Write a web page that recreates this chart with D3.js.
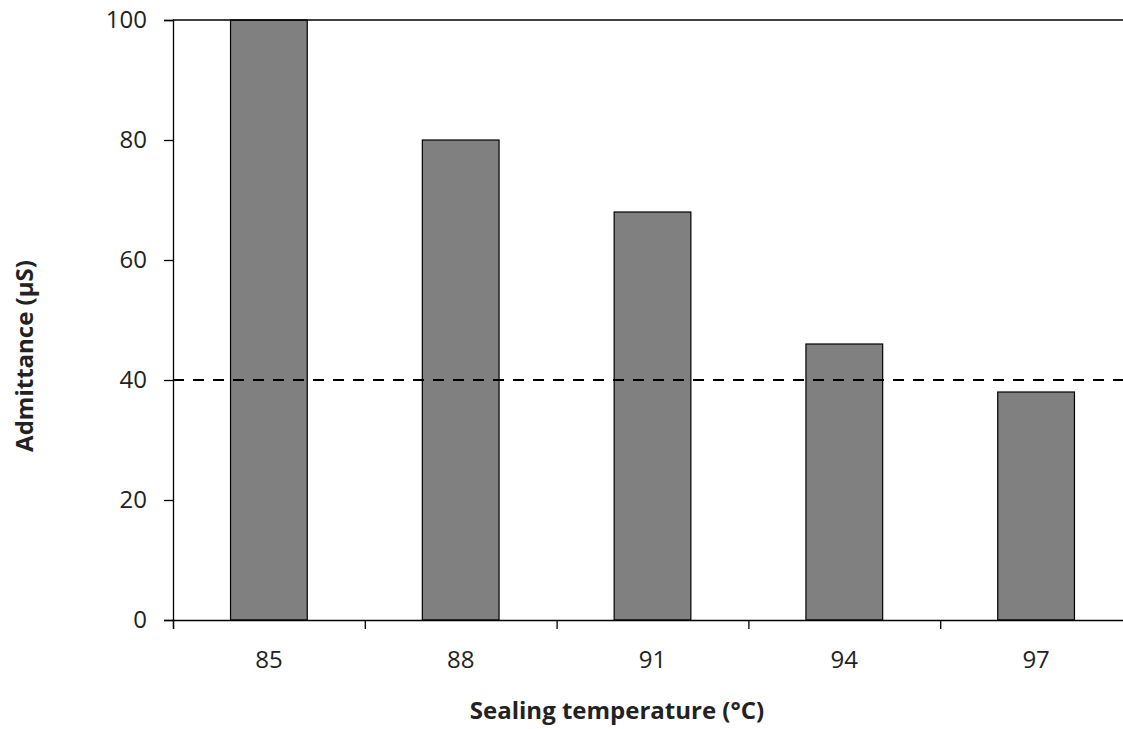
<!DOCTYPE html>
<html><head><meta charset="utf-8">
<script src="https://cdn.jsdelivr.net/npm/d3@7"></script>
<style>
html,body{margin:0;padding:0;background:#fff;overflow:hidden}
text{font-family:"Open Sans",sans-serif;fill:#222}
</style></head>
<body><svg id="c" width="1123" height="729"></svg>
<script>
const categories = ["85","88","91","94","97"];
const values = [100, 80, 68, 46, 38];
const yTicks = [0, 20, 40, 60, 80, 100];
const thresholdValue = [40];
const xTitle = "Sealing temperature (°C)";
const yTitle = "Admittance (µS)";

const svg = d3.select("#c");
const L = 173, R = 1132, T = 20, B = 620;
const x = d3.scaleBand().domain(categories).range([L, R]).paddingInner(0.6).paddingOuter(0.3);
const y = d3.scaleLinear().domain([0, 100]).range([B, T]);

// bars
svg.append("g").selectAll("rect").data(values).join("rect")
  .attr("x", (d,i) => x(categories[i]))
  .attr("y", d => y(d))
  .attr("width", x.bandwidth())
  .attr("height", d => y(0) - y(d))
  .attr("fill", "#808080").attr("stroke", "#000").attr("stroke-width", 1.2);

// threshold
svg.append("g").selectAll("line").data(thresholdValue).join("line")
  .attr("x1", L).attr("x2", R).attr("y1", d => y(d)).attr("y2", d => y(d))
  .attr("stroke", "#000").attr("stroke-width", 2.2).attr("stroke-dasharray", "11,9");

// top border
svg.append("line").attr("x1", L).attr("x2", R).attr("y1", T).attr("y2", T)
  .attr("stroke", "#000").attr("stroke-width", 1.3);

// y axis
const ya = svg.append("g").attr("transform", `translate(${L},0)`)
  .call(d3.axisLeft(y).tickValues(yTicks).tickSize(9).tickPadding(17));
// x axis with boundary ticks
const bounds = d3.range(categories.length + 1).map(i => L + i * x.step());
const xa = svg.append("g").attr("transform", `translate(0,${B})`);
xa.call(d3.axisBottom(d3.scaleLinear().domain([L, R]).range([L, R])).tickValues(bounds).tickSize(9).tickFormat(""));
xa.selectAll(".tick").filter((d,i) => i === categories.length).remove();
svg.append("g").attr("transform", `translate(0,${B})`)
  .call(d3.axisBottom(x).tickSize(0).tickPadding(31))
  .call(g => g.select(".domain").remove());

svg.selectAll(".domain").attr("stroke", "#000").attr("stroke-width", 1.3);
svg.selectAll(".tick line").attr("stroke", "#000").attr("stroke-width", 1.3);
svg.selectAll(".tick text").style("font-family", "'Open Sans',sans-serif").style("font-size", "24px").attr("fill", "#222");

svg.append("text").attr("x", 617).attr("y", 719).attr("text-anchor", "middle")
  .style("font-size", "24px").style("font-weight", "bold").text(xTitle);
svg.append("text").attr("transform", "translate(33,356) rotate(-90)").attr("text-anchor", "middle")
  .style("font-size", "24px").style("font-weight", "bold").text(yTitle);
</script></body></html>
